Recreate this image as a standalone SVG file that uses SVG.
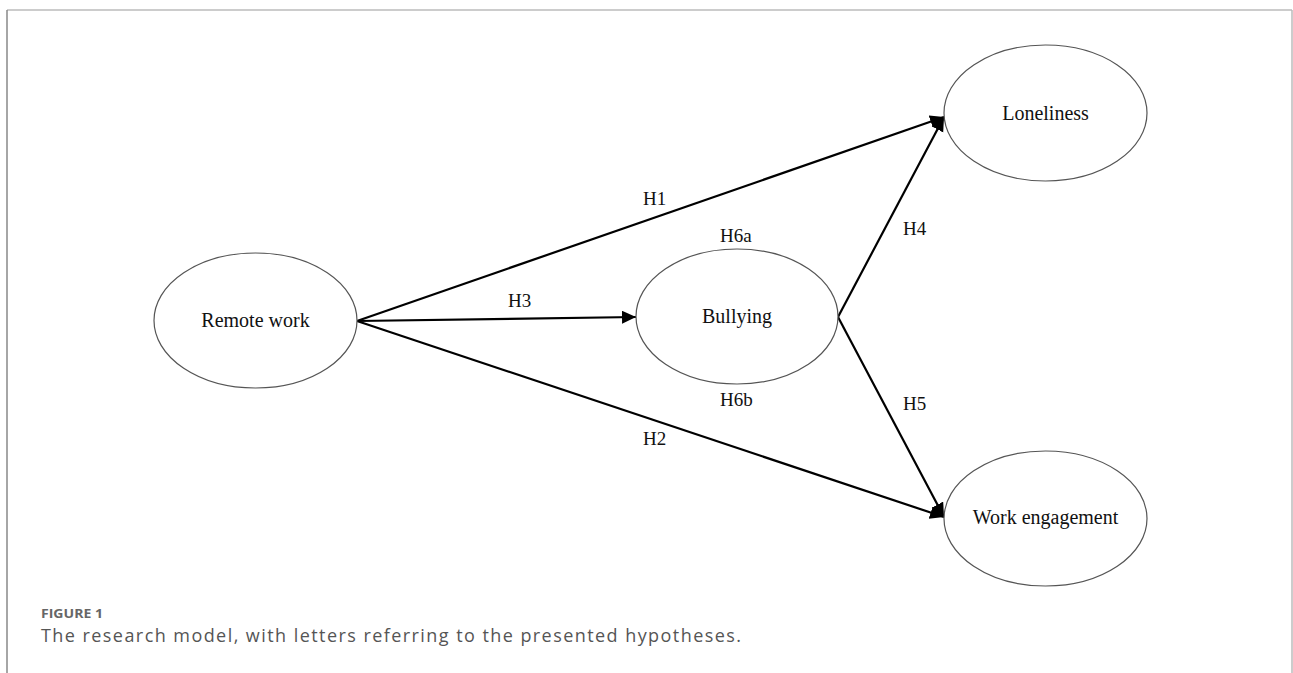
<svg xmlns="http://www.w3.org/2000/svg" width="1293" height="673" viewBox="0 0 1293 673">
<style>
.node ellipse{fill:#fff;stroke:#555;stroke-width:1.2}
.node text{font-family:"Liberation Serif","Times New Roman",serif;font-size:20px;fill:#111;text-anchor:middle}
.lbl{font-family:"Liberation Serif","Times New Roman",serif;font-size:19px;fill:#111}
.edge{stroke:#000;stroke-width:2.2;fill:none;marker-end:url(#arr)}
.cap1{font-family:"Open Sans",Lato,sans-serif;font-size:13px;font-weight:bold;fill:#666}
.cap2{font-family:"Open Sans",Lato,sans-serif;font-size:18px;fill:#555}
</style>
<defs>
<marker id="arr" markerUnits="userSpaceOnUse" markerWidth="15" markerHeight="14" refX="14" refY="6.5" orient="auto">
<path d="M0,0 L14,6.5 L0,13 z" fill="#000"/>
</marker>
</defs>
<rect width="1293" height="673" fill="#fff"/>
<g id="frame">
<line x1="7" y1="10" x2="1292" y2="10" stroke="#bbb" stroke-width="1.5"/>
<line x1="7" y1="10" x2="7" y2="673" stroke="#888" stroke-width="1.5"/>
<line x1="1292" y1="10" x2="1292" y2="673" stroke="#bbb" stroke-width="1.5"/>
</g>
<g id="connectors">
<line class="edge" x1="357" y1="321" x2="944" y2="117"/>
<line class="edge" x1="357" y1="321" x2="636" y2="317"/>
<line class="edge" x1="357" y1="321" x2="944" y2="517"/>
<line class="edge" x1="838" y1="317" x2="944" y2="117"/>
<line class="edge" x1="838" y1="317" x2="944" y2="517"/>
<text class="lbl" x="643" y="205">H1</text>
<text class="lbl" x="720" y="242">H6a</text>
<text class="lbl" x="903" y="235">H4</text>
<text class="lbl" x="508" y="307">H3</text>
<text class="lbl" x="720" y="406">H6b</text>
<text class="lbl" x="903" y="410">H5</text>
<text class="lbl" x="643" y="445">H2</text>
</g>
<g id="remote-work" class="node">
<ellipse cx="255.5" cy="320.5" rx="101.5" ry="67.5"/>
<text x="255.5" y="327">Remote work</text>
</g>
<g id="bullying" class="node">
<ellipse cx="737" cy="316.5" rx="101" ry="67.5"/>
<text x="737" y="323">Bullying</text>
</g>
<g id="loneliness" class="node">
<ellipse cx="1045.5" cy="113" rx="101.5" ry="68"/>
<text x="1045.5" y="120">Loneliness</text>
</g>
<g id="work-engagement" class="node">
<ellipse cx="1045.5" cy="518.5" rx="101.5" ry="67.5"/>
<text x="1045.5" y="524">Work engagement</text>
</g>
<g id="caption">
<text class="cap1" x="41" y="618" textLength="62" lengthAdjust="spacingAndGlyphs">FIGURE 1</text>
<text class="cap2" x="41" y="642" textLength="700" lengthAdjust="spacing">The research model, with letters referring to the presented hypotheses.</text>
</g>
</svg>
